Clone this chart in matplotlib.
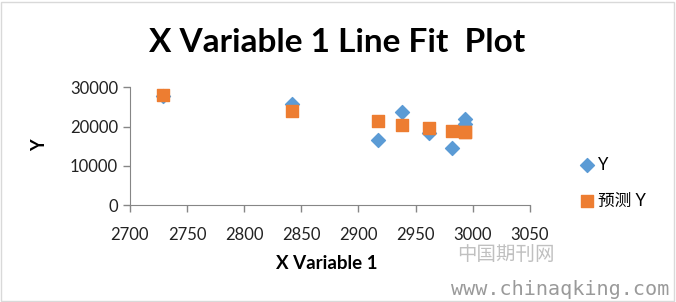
import matplotlib
matplotlib.use('Agg')
import matplotlib.pyplot as plt
from matplotlib.patches import Rectangle

plt.rcParams['font.family'] = ['Lato', 'Noto Sans CJK SC', 'DejaVu Sans']

# data
x_var = [2729, 2842, 2917, 2938, 2962, 2982, 2993, 2993]
y_obs = [27800, 25700, 16500, 23700, 18300, 14500, 21900, 20600]
y_pred = [28070, 24070, 21530, 20510, 19590, 18990, 18650, 18650]
x_ticks = [2700, 2750, 2800, 2850, 2900, 2950, 3000, 3050]
y_ticks = [0, 10000, 20000, 30000]

BLUE = '#5B9BD5'
ORANGE = '#ED7D31'
AXIS = '#868686'

fig = plt.figure(figsize=(6.76, 3.02), dpi=100)
fig.patch.set_facecolor('white')
fig.patches.append(Rectangle((0.002, 0.004), 0.995, 0.99, transform=fig.transFigure,
                             fill=False, edgecolor='#d9d9d9', lw=1))

ax = fig.add_axes([0.192, 0.321, 0.592, 0.390])
ax.scatter(x_var, y_obs, marker='D', s=50, color=BLUE, label='Y', zorder=3)
ax.scatter(x_var, y_pred, marker='s', s=64, color=ORANGE, label='预测 Y', zorder=4)

ax.set_xlim(2700, 3050)
ax.set_ylim(0, 30000)
ax.set_xticks(x_ticks)
ax.set_yticks(y_ticks)
ax.tick_params(axis='both', labelsize=12, colors=AXIS, labelcolor='#222222',
               length=5, width=1)
ax.tick_params(axis='x', pad=11)
for s in ['top', 'right']:
    ax.spines[s].set_visible(False)
for s in ['left', 'bottom']:
    ax.spines[s].set_color(AXIS)

fig.text(0.498, 0.86, 'X Variable 1 Line Fit  Plot', ha='center', va='center',
         fontsize=24, fontweight='bold')
fig.text(0.058, 0.52, 'Y', ha='center', va='center', rotation=90,
         fontsize=13, fontweight='bold')
fig.text(0.484, 0.128, 'X Variable 1', ha='center', va='center',
         fontsize=13.5, fontweight='bold')

leg = fig.legend(loc='center left', bbox_to_anchor=(0.848, 0.395), frameon=False,
                 fontsize=12, handletextpad=0.3, labelspacing=1.2,
                 handlelength=0.8, borderaxespad=0)

# watermark
fig.text(0.748, 0.158, '中国期刊网', ha='center', va='center', fontsize=14,
         color='#c0c0c0', family=['Noto Sans CJK SC'])
fig.text(0.828, 0.04, 'www.chinaqking.com', ha='center', va='center', fontsize=14.5,
         color='#9a9a9a', family=['DejaVu Sans Mono'])

fig.savefig('out.png', dpi=100)
